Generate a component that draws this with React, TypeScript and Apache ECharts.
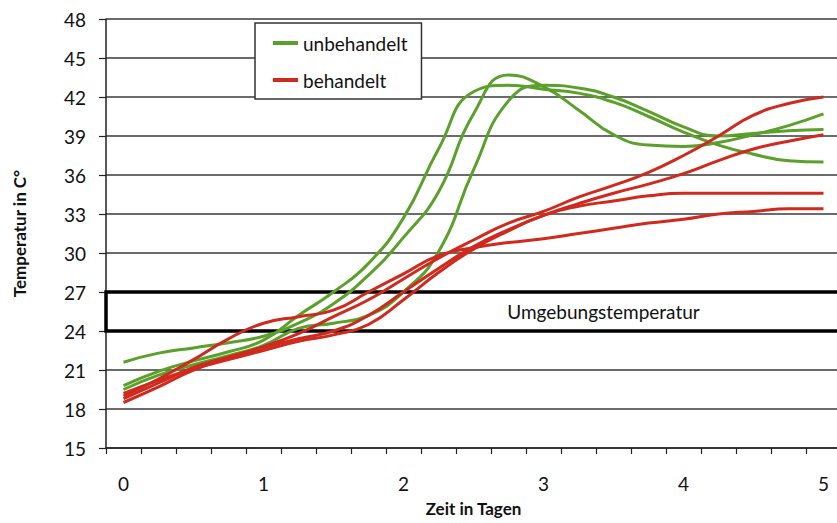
import React, { useEffect, useRef } from "react";
import * as echarts from "echarts";

// Zeit in Tagen (quarter days; labels shown every full day)
const days = [
  "0", "0.25", "0.5", "0.75", "1", "1.25", "1.5", "1.75", "2", "2.25", "2.5",
  "2.75", "3", "3.25", "3.5", "3.75", "4", "4.25", "4.5", "4.75", "5",
];

// unbehandelt (green)
const untreatedA = [19.8, 20.9, 21.7, 22.4, 23.3, 25.2, 27.0, 29.2, 32.7, 38.0, 42.4, 42.9, 42.6, 42.3, 41.6, 40.5, 39.3, 38.3, 37.6, 37.1, 37.0];
const untreatedB = [21.6, 22.3, 22.7, 23.1, 23.6, 24.6, 26.1, 28.3, 31.2, 34.7, 40.7, 43.7, 42.8, 41.0, 39.1, 38.3, 38.2, 38.5, 39.1, 39.8, 40.7];
const untreatedC = [19.5, 20.6, 21.4, 22.1, 22.9, 24.2, 24.6, 25.2, 27.0, 30.1, 36.4, 41.7, 42.9, 42.7, 42.0, 40.9, 39.7, 39.0, 39.2, 39.4, 39.5];

// behandelt (red)
const treatedA = [18.8, 20.0, 21.2, 22.0, 22.8, 23.8, 25.1, 26.4, 28.0, 29.6, 31.0, 32.3, 33.2, 34.3, 35.2, 36.2, 37.5, 39.0, 40.6, 41.5, 42.0];
const treatedB = [18.5, 19.7, 21.0, 21.9, 22.7, 23.4, 24.0, 25.2, 27.0, 28.8, 30.5, 31.8, 32.9, 33.8, 34.6, 35.3, 36.1, 37.1, 38.0, 38.6, 39.1];
const treatedC = [19.2, 20.2, 21.1, 21.8, 22.5, 23.2, 23.7, 24.5, 26.4, 28.5, 30.3, 31.7, 32.9, 33.6, 34.0, 34.4, 34.6, 34.6, 34.6, 34.6, 34.6];
const treatedD = [19.0, 20.3, 21.8, 23.4, 24.6, 25.1, 25.6, 27.0, 28.4, 29.8, 30.4, 30.8, 31.1, 31.5, 31.9, 32.3, 32.6, 33.0, 33.2, 33.4, 33.4];

// Ambient temperature band
const ambientLow = 24;
const ambientHigh = 27;
const ambientLabel = "Umgebungstemperatur";

const GREEN = "#5aa02b";
const RED = "#d0291d";
const FONT = "Lato";

function lineSeries(name: string, data: number[], color: string, extra: any = {}) {
  return {
    type: "line",
    name,
    data,
    smooth: true,
    showSymbol: false,
    symbol: "none",
    itemStyle: { color },
    lineStyle: { color, width: 3 },
    emphasis: { disabled: true },
    z: 3,
    ...extra,
  };
}

export default function App() {
  const ref = useRef<HTMLDivElement>(null);

  useEffect(() => {
    if (!ref.current) return;
    const chart = echarts.init(ref.current, undefined, { renderer: "svg" });
    const axisColor = "#222";
    const option: any = {
      animation: false,
      backgroundColor: "#ffffff",
      textStyle: { fontFamily: FONT },
      grid: { left: 106, top: 19, width: 735, height: 429 },
      legend: {
        data: ["unbehandelt", "behandelt"],
        orient: "vertical",
        left: 255,
        top: 23,
        padding: [10, 14, 9, 18],
        itemGap: 17,
        itemWidth: 25,
        itemHeight: 4,
        icon: "rect",
        selectedMode: false,
        backgroundColor: "#ffffff",
        borderColor: "#333",
        borderWidth: 1.5,
        textStyle: { fontFamily: FONT, fontSize: 19, color: "#111", lineHeight: 20 },
      },
      xAxis: {
        type: "category",
        data: days,
        boundaryGap: true,
        name: "Zeit in Tagen",
        nameLocation: "middle",
        nameGap: 52,
        nameTextStyle: { fontFamily: FONT, fontWeight: "bold", fontSize: 17, color: "#111" },
        axisLine: { show: true, lineStyle: { color: axisColor, width: 1.5 } },
        axisTick: { show: true, interval: 0, length: 6, lineStyle: { color: axisColor, width: 1.2 } },
        axisLabel: { interval: 3, margin: 26, fontFamily: FONT, fontSize: 19, color: "#111" },
        splitLine: { show: false },
      },
      yAxis: {
        type: "value",
        min: 15,
        max: 48,
        interval: 3,
        name: "Temperatur in C°",
        nameLocation: "middle",
        nameRotate: 90,
        nameGap: 78,
        nameTextStyle: { fontFamily: FONT, fontWeight: "bold", fontSize: 17, color: "#111" },
        axisLine: { show: true, lineStyle: { color: axisColor, width: 1.5 } },
        axisTick: { show: true, length: 7, lineStyle: { color: axisColor, width: 1.2 } },
        axisLabel: { margin: 20, fontFamily: FONT, fontSize: 19, color: "#111" },
        splitLine: { show: true, lineStyle: { color: "#3a3a3a", width: 1.5 } },
      },
      series: [
        lineSeries("unbehandelt", untreatedA, GREEN, {
          markArea: {
            silent: true,
            itemStyle: { color: "rgba(0,0,0,0)", borderColor: "#000", borderWidth: 3.5 },
            label: {
              show: true,
              position: "inside",
              offset: [130, 0],
              fontFamily: FONT,
              fontSize: 19,
              color: "#111",
            },
            data: [[{ yAxis: ambientLow, name: ambientLabel }, { yAxis: ambientHigh }]],
          },
        }),
        lineSeries("unbehandelt", untreatedB, GREEN),
        lineSeries("unbehandelt", untreatedC, GREEN),
        lineSeries("behandelt", treatedA, RED),
        lineSeries("behandelt", treatedB, RED),
        lineSeries("behandelt", treatedC, RED),
        lineSeries("behandelt", treatedD, RED),
      ],
    };
    chart.setOption(option);
    return () => chart.dispose();
  }, []);

  return (
    <div
      style={{
        position: "fixed",
        left: 0,
        top: 0,
        width: 837,
        height: 523,
        overflow: "hidden",
        background: "#fff",
      }}
    >
      <div ref={ref} style={{ width: 852, height: 523 }} />
    </div>
  );
}
